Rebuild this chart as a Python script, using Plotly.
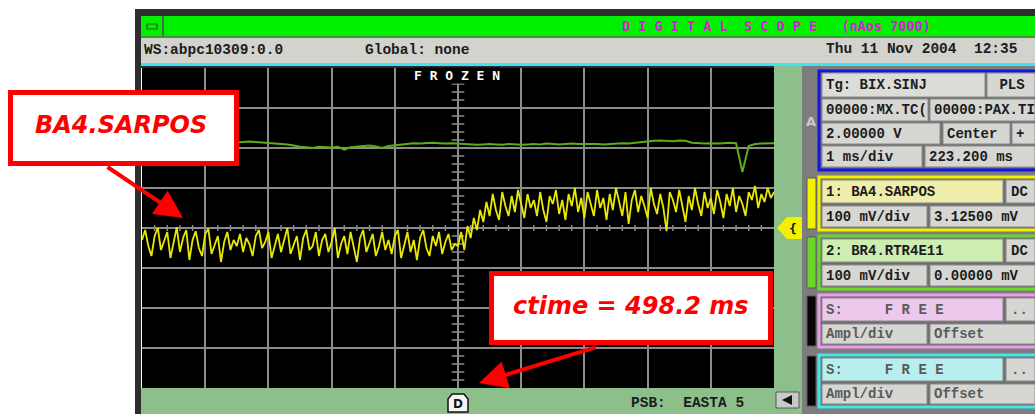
import plotly.graph_objects as go

W, H = 1035, 414

# ---- channel data (time in ms, amplitude in mV, 1 ms/div, 100 mV/div) ----
dt_ch1 = 0.05
ch1_before = [
    -30, -5, -45, -70, -20, 0, -55, -35, -10, -75,
    -40, 2, -60, -25, -5, -80, -30, -8, -50, -70,
    -15, -2, -65, -40, -20, -85, -35, -10, -55, -30,
    -45, -15, -60, -25, -40, -70, -20, -5, -50, -35,
    -10, -75, -45, -15, -60, -30, 0, -65, -40, -20,
    -80, -25, -5, -55, -45, -10, -70, -30, -15, -60,
    -35, 0, -75, -40, -20, -65, -10, -50, -85, -25,
    -5, -60, -35, -15, -70, -45, -10, -55, -30, -65,
    -20, -5, -75, -40, -10, -60, -30, -80, -25, -5,
    -50, -70, -20, -45, -10, -65, -35, -15, -55, -40,
]
ch1_after = [
    -45, -10, -55, 5, -25, 25, -5, 45, 15, 65,
    30, 85, 45, 20, 90, 55, 30, 80, 40, 95,
    60, 25, 85, 50, 70, 30, 90, 45, 15, 80,
    60, 95, 35, 70, 20, 85, 55, 100, 40, 75,
    25, 90, 60, 30, 95, 50, 75, 20, 85, 45,
    100, 65, 30, 90, 10, 70, 95, 40, 80, 55,
    25, 100, 60, 35, 85, 50, -8, 90, 70, 40,
    95, 55, 15, 80, 45, 100, 60, 30, 90, 50,
    75, 35, 95, 65, 25, 85, 55, 100, 40, 80,
    60, 30, 90, 70, 105, 50, 85, 65, 100, 75, 90,
]
ch1_mv = ch1_before + ch1_after
ch1_t = [i * dt_ch1 for i in range(len(ch1_mv))]

dt_ch2 = 0.1
ch2_mv = [
    214, 215, 214, 215, 216, 214, 215, 214, 215, 214,
    215, 214, 215, 216, 215, 214, 215, 216, 215, 214,
    213, 211, 210, 209, 206, 203, 202, 200, 203, 202,
    201, 203, 196, 202, 203, 205, 206, 204, 200, 205,
    207, 209, 210, 212, 211, 212, 213, 212, 211, 212,
    211, 210, 209, 208, 209, 210, 209, 208, 210, 209,
    208, 209, 210, 209, 211, 210, 209, 210, 211, 210,
    210, 211, 210, 209, 210, 211, 212, 211, 213, 214,
    216, 218, 219, 218, 217, 219, 218, 213, 212, 211,
    212, 211, 212, 213, 212, 140, 205, 210, 211, 212,
    212,
]
ch2_t = [i * dt_ch2 for i in range(len(ch2_mv))]

# ---- helpers in screen pixels ----
def px(x):
    return x / W

def py(y):
    return 1 - y / H

shapes = []
annotations = []

def rect(x0, y0, x1, y1, fill, line=None, lw=0):
    shapes.append(dict(type="rect", xref="paper", yref="paper",
                       x0=px(x0), x1=px(x1), y0=py(y1), y1=py(y0),
                       fillcolor=fill, line=dict(color=line or fill, width=lw),
                       layer="above"))

def poly(pts, fill, line=None, lw=0):
    d = "M " + " L ".join(f"{px(x):.5f},{py(y):.5f}" for x, y in pts) + " Z"
    shapes.append(dict(type="path", xref="paper", yref="paper", path=d,
                       fillcolor=fill, line=dict(color=line or fill, width=lw),
                       layer="above"))

def text(x, y, s, size=14, color="#1c1c1c", family="Liberation Mono",
         anchor="left", bold=True, bg=None):
    annotations.append(dict(x=px(x), y=py(y), xref="paper", yref="paper",
                            text=f"<b>{s}</b>" if bold else s, showarrow=False,
                            xanchor=anchor, yanchor="middle",
                            font=dict(family=family, size=size, color=color),
                            bgcolor=bg, borderpad=0))

# ---- window frame (kept clear of the graticule) and header bars ----
FRAME = "#2e2e2e"
rect(135, 9, 1035, 16, FRAME)
rect(135, 9, 141, 414, FRAME)
rect(141, 66, 774, 68, FRAME)
rect(141, 16, 1035, 37, "#00f000")
rect(141, 36, 1035, 38, "#3a9a3a")
rect(162, 16, 164, 37, "#4a6a4a")
rect(147, 24, 157, 29, "#00f000", "#2a5a2a", 1.2)
text(776, 26, "D I G I T A L  S C O P E   (nAos 7000)", size=13.5,
     color="#d41ed4", family="DejaVu Sans Mono", anchor="center")
rect(141, 38, 1035, 63, "#d2d3cc")
text(143, 50, "WS:abpc10309:0.0", size=14.5)
text(364, 50, "Global: none", size=14.5)
text(825, 49, "Thu 11 Nov 2004  12:35", size=14.5)
rect(141, 63, 1035, 66, "#3fe3f2")

# ---- right panel ----
rect(802, 66, 1035, 414, "#7d7d7d")
rect(774, 66, 802, 414, "#8dbf8b")
rect(141, 388, 802, 414, "#8dbf8b")
text(811, 122, "A", size=13, color="#c9c9c9", family="DejaVu Sans", anchor="center")

CELL = "#d6d6d2"
cells_a = [
    (822, 985, 73, 97, "Tg: BIX.SINJ", "#dcdcd8"),
    (987, 1035, 73, 97, " PLS", CELL),
    (822, 928, 99, 121, "00000:MX.TC(", CELL),
    (930, 1035, 99, 121, "00000:PAX.TI", CELL),
    (822, 940, 123, 144, "2.00000 V", CELL),
    (943, 1010, 123, 144, "Center", CELL),
    (1012, 1035, 123, 144, "+", CELL),
    (822, 922, 146, 167, "1 ms/div", CELL),
    (925, 1035, 146, 167, "223.200 ms", CELL),
]
rect(819, 71, 1040, 170, "#6f6f6f", "#1414e6", 3)

channels = [
    # border y0, y1, border colour, bar colour, label fill, label, scale, offset, coupling, text colour
    (177, 230, "#f2f200", "#f2f200", "#eeeeaa", "1: BA4.SARPOS", "100 mV/div", "3.12500 mV", "DC", "#1c1c1c"),
    (236, 289, "#6ad82a", "#6ad82a", "#cdeeb0", "2: BR4.RTR4E11", "100 mV/div", "0.00000 mV", "DC", "#1c1c1c"),
    (295, 347, "#ee9aee", "#050505", "#ecc8ec", "S:     F R E E", "Ampl/div", "Offset", "..", "#5a5a5a"),
    (355, 407, "#40e8ec", "#050505", "#b8eeee", "S:     F R E E", "Ampl/div", "Offset", "..", "#5a5a5a"),
]
for y0, y1, bcol, barcol, lfill, label, scale, off, cpl, tcol in channels:
    rect(807, y0 + 1, 816, y1 - 1, barcol, "#5a5a5a", 1)
    rect(819, y0, 1040, y1, "#6f6f6f", bcol, 3)
    r1 = (y0 + 3, y0 + 26)
    r2 = (y0 + 29, y1 - 3)
    rect(822, r1[0], 1003, r1[1], lfill, "#8a8a8a", 1)
    text(825, (r1[0] + r1[1]) / 2, label, color=tcol)
    rect(1006, r1[0], 1035, r1[1], CELL, "#8a8a8a", 1)
    text(1010, (r1[0] + r1[1]) / 2, cpl, color=tcol)
    rect(822, r2[0], 927, r2[1], CELL, "#8a8a8a", 1)
    text(825, (r2[0] + r2[1]) / 2, scale, color=tcol)
    rect(930, r2[0], 1035, r2[1], CELL, "#8a8a8a", 1)
    text(933, (r2[0] + r2[1]) / 2, off, color=tcol)

for x0, x1, y0, y1, s, fill in cells_a:
    rect(x0, y0, x1, y1, fill, "#8a8a8a", 1)
    text(x0 + 3, (y0 + y1) / 2, s)

# channel 1 reference marker
poly([(777, 228), (787, 217), (802, 217), (802, 239), (787, 239)], "#f2f200")
text(793, 228, "{", size=13, family="DejaVu Sans Mono", anchor="center", color="#111111")

# scroll button
rect(776, 392, 799, 408, "#c9c9c9", "#5a5a5a", 1)
poly([(782, 400), (792, 395), (792, 405)], "#111111")

# bottom status bar
poly([(448, 412), (448, 399), (452, 394), (464, 394), (468, 399), (468, 412)],
     "#f4f4f4", "#111111", 1.5)
text(458, 404, "D", size=12, family="DejaVu Sans", anchor="center", color="#111111")
text(630, 403, "PSB:  EASTA 5", size=14.5)

# ---- minor ticks on the centre axes ----
TICK = "#8c8c8c"
for k in range(1, 50):
    if k % 5:
        shapes.append(dict(type="line", xref="x", yref="y", x0=k * 0.2, x1=k * 0.2,
                           y0=-7.5, y1=7.5, line=dict(color=TICK, width=1.5), layer="below"))
for k in range(-19, 20):
    if k % 5:
        shapes.append(dict(type="line", xref="x", yref="y", x0=4.9, x1=5.1,
                           y0=k * 20, y1=k * 20, line=dict(color=TICK, width=1.5), layer="below"))

text(457, 75, "F R O Z E N", size=13, color="#ffffff", family="DejaVu Sans Mono",
     anchor="center", bg="#000000")

# ---- callouts ----
RED = "#ff0000"
rect(10.5, 92.5, 236.5, 163.5, "#ffffff", RED, 5)
rect(491.5, 273.5, 770.5, 342.5, "#ffffff", RED, 5)
annotations.append(dict(x=px(121), y=py(125), xref="paper", yref="paper",
                        text="<b><i>BA4.SARPOS</i></b>", showarrow=False,
                        xanchor="center", yanchor="middle",
                        font=dict(family="DejaVu Sans", size=24, color=RED)))
annotations.append(dict(x=px(631), y=py(306), xref="paper", yref="paper",
                        text="<b><i>ctime = 498.2 ms</i></b>", showarrow=False,
                        xanchor="center", yanchor="middle",
                        font=dict(family="DejaVu Sans", size=24, color=RED)))
for tip, tail in [((183, 218), (106, 166)), ((479, 383), (597, 347))]:
    annotations.append(dict(x=px(tip[0]), y=py(tip[1]), xref="paper", yref="paper",
                            ax=tail[0] - tip[0], ay=tail[1] - tip[1],
                            axref="pixel", ayref="pixel", text="",
                            showarrow=True, arrowhead=2, arrowsize=1.4,
                            arrowwidth=4, arrowcolor=RED, standoff=0, startstandoff=0))

# ---- traces ----
fig = go.Figure()
fig.add_trace(go.Scatter(x=ch2_t, y=ch2_mv, mode="lines", name="BR4.RTR4E11",
                         line=dict(color="#5cae16", width=2), hoverinfo="skip"))
fig.add_trace(go.Scatter(x=ch1_t, y=ch1_mv, mode="lines", name="BA4.SARPOS",
                         line=dict(color="#e8e800", width=1.8), hoverinfo="skip"))

axis_common = dict(showgrid=True, gridcolor="#8c8c8c", gridwidth=1.5, zeroline=False,
                   showticklabels=False, ticks="", showline=False, fixedrange=True)
fig.update_layout(
    width=W, height=H, margin=dict(l=0, r=0, t=0, b=0),
    paper_bgcolor="#ffffff", plot_bgcolor="#000000", showlegend=False,
    xaxis=dict(domain=[142 / W, 774 / W], range=[0, 10], dtick=1, **axis_common),
    yaxis=dict(domain=[1 - 388 / H, 1 - 68 / H], range=[-400, 400], dtick=100, **axis_common),
    shapes=shapes, annotations=annotations,
)
fig.write_html("out.html")
